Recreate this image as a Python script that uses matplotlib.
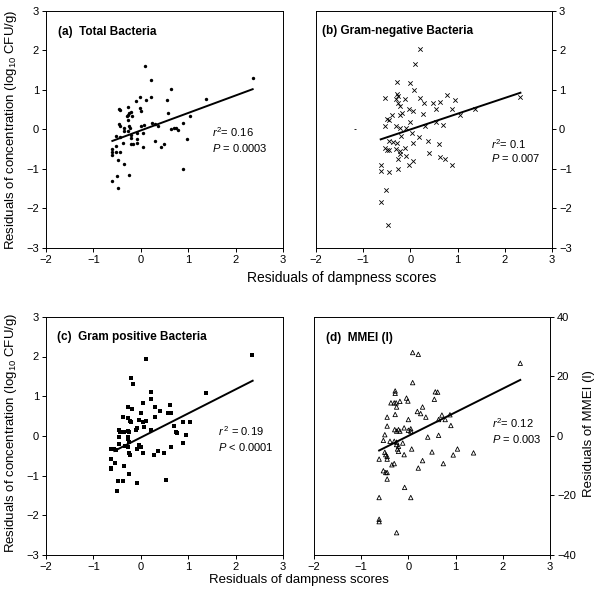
import matplotlib
matplotlib.use("Agg")
import matplotlib.pyplot as plt

plt.rcParams['font.family'] = ['Liberation Sans', 'DejaVu Sans']
plt.rcParams['mathtext.fontset'] = 'custom'
plt.rcParams['mathtext.rm'] = 'Liberation Sans'
plt.rcParams['mathtext.it'] = 'Liberation Sans:italic'

# (a) Total Bacteria
a_x = [0.09, 0.21, 0.64, 2.36, -0.01, 0.21, 0.10, 0.55, 1.38, -0.02, 0.00, 0.58, 1.04,
       -0.45, -0.44, -0.28, -0.21, -0.27, -0.30, -0.25, -0.18, -0.28, -0.10, -0.45, -0.44,
       -0.35, -0.25, -0.23, -0.35, -0.28, -0.08, 0.00, 0.06, 0.23, 0.30, 0.37, 0.64, 0.71,
       0.75, 0.78, 0.90, 0.04, -0.21, -0.21, -0.16, -0.21, -0.07, -0.08, -0.38, -0.52,
       -0.44, -0.53, -0.61, -0.61, -0.61, -0.52, -0.44, -0.48, -0.35, 0.04, 0.31, 0.42,
       0.49, 0.97, 0.90, -0.51, -0.25, -0.61, -0.49]
a_y = [1.61, 1.26, 1.02, 1.30, 0.83, 0.81, 0.75, 0.75, 0.77, 0.54, 0.47, 0.41, 0.35,
       0.53, 0.50, 0.56, 0.45, 0.37, 0.33, 0.41, 0.33, 0.24, 0.72, 0.13, 0.09,
       0.03, 0.08, 0.03, -0.05, -0.05, -0.09, 0.09, 0.12, 0.16, 0.13, 0.08, 0.01, 0.05,
       0.04, -0.01, 0.16, -0.09, -0.13, -0.22, -0.36, -0.36, -0.33, -0.24, -0.33, -0.16,
       -0.18, -0.41, -0.50, -0.58, -0.64, -0.58, -0.56, -0.77, -0.87, -0.45, -0.30, -0.45,
       -0.36, -0.24, -0.99, -1.19, -1.14, -1.31, -1.48]
a_fit_x = [-0.60, 2.36]
a_fit_y = [-0.29, 1.02]

# (b) Gram-negative Bacteria
b_x = [0.21, 0.09, -0.29, -0.01, 0.08, -0.29, -0.27, 0.77, -0.54, -0.11, 0.20, -0.30,
       -0.26, 0.29, 0.48, 0.63, 0.95, 2.33, -0.23, -0.04, 0.05, 0.54, 0.89, 0.26, -0.23,
       -0.18, -0.39, 1.05, 1.37, -0.50, -0.46, -0.30, -0.23, -0.09, 0.00, 0.30, 0.54,
       0.70, -0.54, 0.04, -0.20, 0.19, -0.46, -0.36, -0.29, 0.06, 0.37, 0.61, -0.54,
       -0.50, -0.46, -0.30, -0.23, -0.23, -0.11, 0.40, -0.09, -0.26, 0.63, 0.73, 0.05,
       -0.04, 0.87, -0.62, -0.62, -0.26, -0.46, -0.51, -0.63, -0.47]
b_y = [2.05, 1.67, 1.20, 1.17, 1.00, 0.89, 0.86, 0.88, 0.79, 0.76, 0.79, 0.76,
       0.68, 0.66, 0.66, 0.69, 0.74, 0.82, 0.59, 0.52, 0.46, 0.51, 0.51, 0.40, 0.36,
       0.41, 0.36, 0.36, 0.52, 0.27, 0.24, 0.10, 0.04, 0.04, 0.19, 0.08, 0.20,
       0.12, 0.10, -0.10, -0.17, -0.19, -0.30, -0.32, -0.34, -0.34, -0.28, -0.38, -0.46,
       -0.52, -0.51, -0.49, -0.55, -0.63, -0.46, -0.59, -0.68, -0.74, -0.69, -0.74, -0.80,
       -0.89, -0.90, -0.91, -1.06, -0.99, -1.08, -1.52, -1.83, -2.43]
b_stray = [-1.18, 0.02]
b_fit_x = [-0.63, 2.33]
b_fit_y = [-0.25, 0.93]

# (c) Gram positive Bacteria
c_x = [0.10, 2.35, -0.21, -0.17, 1.37, 0.21, 0.04, 0.21, -0.28, -0.18, 0.30, 0.41,
       0.62, 0.58, 0.63, -0.37, -0.28, -0.23, -0.20, -0.03, 0.00, 0.04, 0.10, 0.30,
       0.07, -0.08, -0.10, 0.21, -0.45, -0.44, -0.35, -0.28, -0.24, -0.45, -0.28, 0.70,
       0.74, 0.77, 0.89, 1.04, 0.96, -0.28, -0.25, -0.53, -0.63, -0.56, -0.45, -0.33,
       -0.26, -0.03, 0.00, -0.08, -0.24, -0.23, 0.04, 0.27, 0.37, 0.49, 0.63, 0.88,
       -0.62, -0.54, -0.62, -0.62, -0.35, -0.25, -0.49, -0.38, -0.08, 0.54, -0.51]
c_y = [1.93, 2.04, 1.45, 1.30, 1.08, 1.11, 0.84, 0.93, 0.72, 0.68, 0.73, 0.63,
       0.77, 0.57, 0.58, 0.47, 0.44, 0.38, 0.34, 0.40, 0.58, 0.35, 0.38, 0.48,
       0.23, 0.21, 0.15, 0.15, 0.16, 0.10, 0.10, 0.13, 0.09, -0.02, -0.02, 0.26,
       0.10, 0.08, 0.35, 0.35, 0.02, -0.09, -0.15, -0.36, -0.34, -0.34, -0.21, -0.26,
       -0.27, -0.24, -0.27, -0.34, -0.42, -0.48, -0.43, -0.47, -0.38, -0.42, -0.27, -0.17,
       -0.57, -0.68, -0.82, -0.84, -0.76, -0.97, -1.13, -1.13, -1.18, -1.11, -1.40]
c_fit_x = [-0.56, 2.36]
c_fit_y = [-0.38, 1.39]

# (d) MMEI (l)
d_x = [0.09, 0.21, 2.37, 0.09, -0.28, -0.28, 0.57, 0.62, -0.04, -0.01, 0.55, -0.37,
       -0.30, -0.26, -0.18, -0.25, 0.30, 0.19, 0.26, -0.28, 0.37, 0.71, 0.88, -0.45,
       0.00, 0.64, 0.78, -0.45, 0.90, -0.29, -0.21, -0.18, -0.25, -0.09, 0.00, 0.05,
       0.05, -0.50, 0.41, 0.64, -0.53, -0.39, -0.30, -0.25, -0.25, -0.21, -0.12, -0.23,
       -0.21, -0.50, -0.48, -0.45, -0.09, 0.07, 0.50, 1.04, 0.95, 1.38, -0.45, -0.62,
       0.30, 0.74, -0.35, -0.30, 0.21, -0.53, -0.48, -0.45, -0.45, -0.08, -0.62, 0.05,
       -0.62, -0.62, -0.25]
d_y = [28.0, 27.4, 24.4, 17.9, 15.1, 14.3, 14.8, 14.7, 12.7, 11.7, 12.3, 11.1,
       11.1, 11.1, 11.6, 9.7, 9.7, 8.2, 7.5, 7.2, 6.3, 7.0, 7.1, 6.3,
       5.5, 5.5, 5.5, 3.3, 3.5, 2.1, 2.1, 1.6, 1.6, 2.7, 1.9, 2.4,
       1.6, 0.4, -0.4, 0.2, -1.5, -1.8, -1.8, -2.1, -2.9, -3.5, -2.4, -4.4,
       -5.2, -5.5, -6.3, -6.9, -6.3, -4.4, -5.4, -4.4, -6.4, -5.7, -7.8, -7.8,
       -8.3, -9.3, -9.7, -9.3, -10.8, -11.7, -12.3, -12.3, -14.5, -17.3, -20.7, -20.7,
       -28.0, -28.8, -32.5]
d_fit_x = [-0.62, 2.37]
d_fit_y = [-4.9, 18.8]

fig = plt.figure(figsize=(6.02, 6.0), dpi=100)
ax_a = fig.add_axes([0.0764, 0.5867, 0.3937, 0.395])
ax_b = fig.add_axes([0.525, 0.5867, 0.392, 0.395])
ax_c = fig.add_axes([0.0764, 0.075, 0.3937, 0.397])
ax_d = fig.add_axes([0.5216, 0.075, 0.392, 0.397])

for ax in [ax_a, ax_b, ax_c, ax_d]:
    ax.set_xlim(-2, 3)
    ax.set_xticks([-2, -1, 0, 1, 2, 3])
    ax.tick_params(direction='out', length=3, width=0.7, labelsize=8, pad=2)
    for s in ax.spines.values():
        s.set_linewidth(0.7)

for ax in [ax_a, ax_b, ax_c]:
    ax.set_ylim(-3, 3)
    ax.set_yticks([-3, -2, -1, 0, 1, 2, 3])
ax_d.set_ylim(-40, 40)
ax_d.set_yticks([-40, -20, 0, 20, 40])

for ax in [ax_b, ax_d]:
    ax.yaxis.tick_right()

ax_a.scatter(a_x, a_y, s=6, marker='o', color='black', linewidths=0)
ax_a.plot(a_fit_x, a_fit_y, color='black', lw=1.4)

ax_b.scatter(b_x, b_y, s=10, marker='x', color='black', linewidths=0.6)
ax_b.plot([b_stray[0]], [b_stray[1]], marker='_', color='black', ms=2, mew=0.6)
ax_b.plot(b_fit_x, b_fit_y, color='black', lw=1.4)

ax_c.scatter(c_x, c_y, s=9, marker='s', color='black', linewidths=0)
ax_c.plot(c_fit_x, c_fit_y, color='black', lw=1.4)

ax_d.scatter(d_x, d_y, s=10, marker='^', facecolors='none', edgecolors='black', linewidths=0.6)
ax_d.plot(d_fit_x, d_fit_y, color='black', lw=1.4)

ax_a.text(0.05, 0.91, '(a)  Total Bacteria', transform=ax_a.transAxes, fontsize=8.5, fontweight='bold', va='center')
ax_b.text(0.025, 0.915, '(b) Gram-negative Bacteria', transform=ax_b.transAxes, fontsize=8.5, fontweight='bold', va='center')
ax_c.text(0.045, 0.915, '(c)  Gram positive Bacteria', transform=ax_c.transAxes, fontsize=8.5, fontweight='bold', va='center')
ax_d.text(0.05, 0.91, '(d)  MMEI (l)', transform=ax_d.transAxes, fontsize=8.5, fontweight='bold', va='center')

ax_a.text(0.70, 0.49, '$\\it{r}^2$= 0.16', transform=ax_a.transAxes, fontsize=8, va='center')
ax_a.text(0.70, 0.42, '$\\it{P}$ = 0.0003', transform=ax_a.transAxes, fontsize=8, va='center')
ax_b.text(0.74, 0.44, '$\\it{r}^2$= 0.1', transform=ax_b.transAxes, fontsize=8, va='center')
ax_b.text(0.74, 0.38, '$\\it{P}$ = 0.007', transform=ax_b.transAxes, fontsize=8, va='center')
ax_c.text(0.725, 0.52, '$\\it{r}^{\\,2}$ = 0.19', transform=ax_c.transAxes, fontsize=8, va='center')
ax_c.text(0.725, 0.455, '$\\it{P}$ < 0.0001', transform=ax_c.transAxes, fontsize=8, va='center')
ax_d.text(0.755, 0.555, '$\\it{r}^2$= 0.12', transform=ax_d.transAxes, fontsize=8, va='center')
ax_d.text(0.755, 0.487, '$\\it{P}$ = 0.003', transform=ax_d.transAxes, fontsize=8, va='center')

ylab = 'Residuals of concentration (log$_{10}$ CFU/g)'
fig.text(0.018, 0.783, ylab, rotation=90, ha='center', va='center', fontsize=9.5)
fig.text(0.018, 0.278, ylab, rotation=90, ha='center', va='center', fontsize=9.5)
fig.text(0.978, 0.278, 'Residuals of MMEI (l)', rotation=90, ha='center', va='center', fontsize=9.5)
fig.text(0.568, 0.537, 'Residuals of dampness scores', ha='center', va='center', fontsize=10)
fig.text(0.497, 0.033, 'Residuals of dampness scores', ha='center', va='center', fontsize=9.5)

fig.savefig('out.png', dpi=100)
